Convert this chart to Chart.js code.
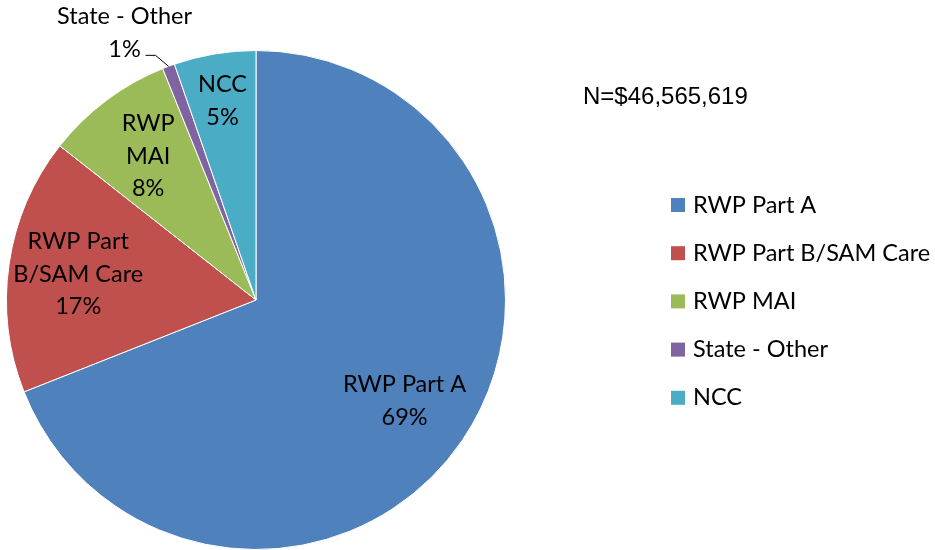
<!DOCTYPE html>
<html lang="en">
<head>
<meta charset="UTF-8">
<title>Funding by source</title>
<script src="https://cdn.jsdelivr.net/npm/chart.js@4.4.0/dist/chart.umd.min.js"></script>
<style>
  body { margin: 0; background: #fff; }
  canvas { display: block; }
</style>
</head>
<body>
<canvas id="pieChart" width="935" height="550"></canvas>
<script>
// data (share of total, %)
const categories = ['RWP Part A', 'RWP Part B/SAM Care', 'RWP MAI', 'State - Other', 'NCC'];
const shares = [69.0, 16.6, 8.3, 0.8, 5.3];
const labelLines = [['RWP Part A'], ['RWP Part', 'B/SAM Care'], ['RWP', 'MAI'], ['State - Other'], ['NCC']];
const colors = ['#4F81BD', '#C0504D', '#9BBB59', '#8064A2', '#4BACC6'];
const totalText = 'N=$46,565,619';

// Calibri isn't here, so size Lato to the width Calibri 20pt would give
const family = 'Lato, "Open Sans", sans-serif';
const probe = document.createElement('canvas').getContext('2d');
probe.font = '100px ' + family;
const fontSize = Math.round(100 * 237 / probe.measureText('RWP Part B/SAM Care').width * 10) / 10;
const FONT = fontSize + 'px ' + family;
const LINE = 32.5;

const total = shares.reduce((a, b) => a + b, 0);

function drawLines(ctx, lines, x, y) {
    const top = y - (lines.length - 1) * LINE / 2;
    lines.forEach((t, k) => ctx.fillText(t, x, top + k * LINE));
}

const sliceLabels = {
    id: 'sliceLabels',
    afterDatasetsDraw(chart) {
        const ctx = chart.ctx;
        const meta = chart.getDatasetMeta(0);
        ctx.save();
        ctx.font = FONT;
        ctx.fillStyle = '#000';
        ctx.textAlign = 'center';
        ctx.textBaseline = 'middle';
        meta.data.forEach((arc, i) => {
            const pct = Math.round(shares[i] / total * 100) + '%';
            const lines = labelLines[i].concat(pct);
            const span = arc.endAngle - arc.startAngle;
            const mid = (arc.startAngle + arc.endAngle) / 2;
            if (span < 0.1) {
                // too thin: label outside with a leader line
                const px = arc.x + Math.cos(mid) * arc.outerRadius;
                const py = arc.y + Math.sin(mid) * arc.outerRadius;
                ctx.strokeStyle = '#000';
                ctx.lineWidth = 1;
                ctx.beginPath();
                ctx.moveTo(px, py);
                ctx.lineTo(px - 13, py - 11);
                ctx.lineTo(px - 23, py - 11);
                ctx.stroke();
                drawLines(ctx, lines, px - 44, py - 17 - (lines.length - 1) * LINE / 2);
            } else {
                const f = span < 0.5 ? 0.81 : 0.72;
                const x = arc.x + Math.cos(mid) * arc.outerRadius * f;
                const y = arc.y + Math.sin(mid) * arc.outerRadius * f;
                drawLines(ctx, lines, x, y);
            }
        });
        ctx.restore();
    }
};

const sideLegend = {
    id: 'sideLegend',
    afterDraw(chart) {
        const ctx = chart.ctx;
        ctx.save();
        ctx.textBaseline = 'middle';
        ctx.textAlign = 'left';
        ctx.fillStyle = '#000';
        ctx.font = '24px "Liberation Sans", Arial, sans-serif';
        ctx.fillText(totalText, 583, 97);
        ctx.font = FONT;
        categories.forEach((c, i) => {
            const y = 205 + i * 48.2;
            ctx.fillStyle = colors[i];
            ctx.fillRect(671, y - 7, 14, 14);
            ctx.fillStyle = '#000';
            ctx.fillText(c, 693, y);
        });
        ctx.restore();
    }
};

new Chart(document.getElementById('pieChart'), {
    type: 'pie',
    data: {
        labels: categories,
        datasets: [{
            data: shares,
            backgroundColor: colors,
            borderColor: '#fff',
            borderWidth: 1
        }]
    },
    options: {
        responsive: false,
        animation: false,
        layout: { padding: { left: 6, top: 50, right: 429, bottom: 0 } },
        plugins: {
            legend: { display: false },
            tooltip: { enabled: false }
        }
    },
    plugins: [sliceLabels, sideLegend]
});
</script>
</body>
</html>
